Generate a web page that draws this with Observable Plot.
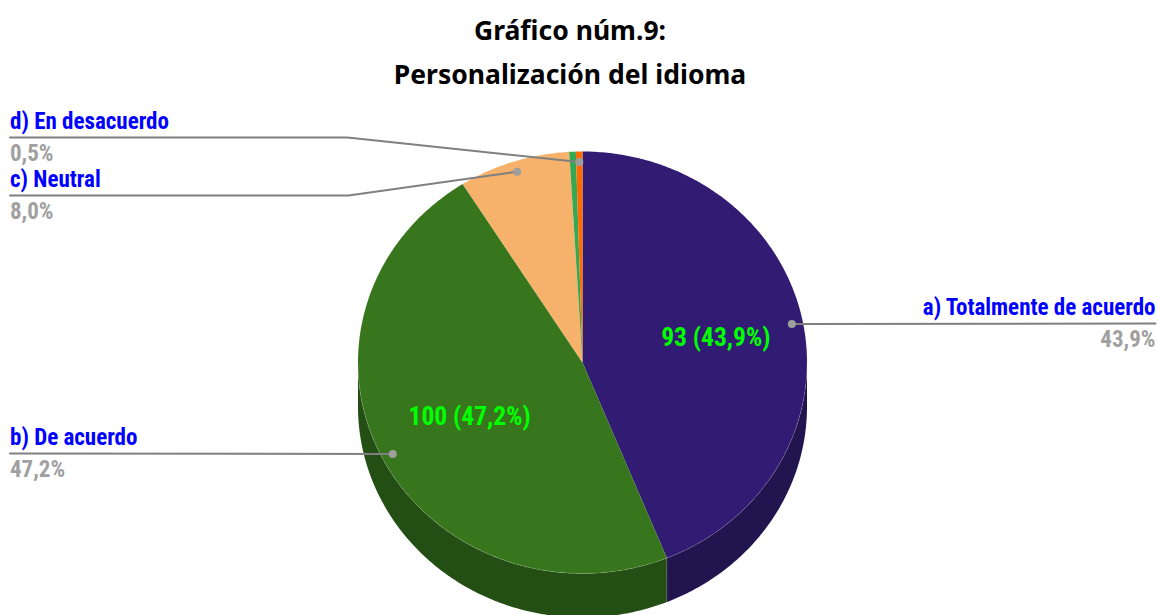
<!DOCTYPE html>
<html lang="es">
<head>
<meta charset="utf-8">
<script src="https://cdn.jsdelivr.net/npm/d3@7"></script>
<script src="https://cdn.jsdelivr.net/npm/@observablehq/plot@0.6"></script>
<style>
  html, body { margin: 0; padding: 0; background: #fff; overflow: hidden; }
  #title { height: 100px; box-sizing: border-box; padding: 8px 17px 0 0; text-align: center;
    font: 700 26.5px/44px "Noto Sans", sans-serif; color: #000; }
  svg { display: block; }
</style>
</head>
<body>
<div id="title">Gráfico núm.9:<br>Personalización del idioma</div>
<div id="chart"></div>
<script>
// Chart data, clockwise from 12 o'clock
const sliceNames = ["a) Totalmente de acuerdo", "b) De acuerdo", "c) Neutral", "sin etiqueta", "d) En desacuerdo"];
const counts = [93, 100, 17, 1, 1];
const percentLabels = ["43,9%", "47,2%", "8,0%", "", "0,5%"];
const sliceColors = ["#311b73", "#38761d", "#f6b26b", "#34a853", "#ff6d01"];
const sideColors = ["#22144f", "#244f14", "#ac7c4a", "#24753a", "#b24c00"];
const inSliceLabels = ["93 (43,9%)", "100 (47,2%)"];
const inSliceRadius = [0.605, 0.565];

// Layout (page pixels)
const W = 1157, H = 515, topOffset = 100;
const cx = 582, cy = 362, rx = 224.5, ry = 211, depth = 44;
const X = px => (px - cx) / rx;
const Y = py => (cy - py) / ry;
const depthU = depth / ry;
const leaderRadius = 0.95;
const labelRows = { // side of the label column and the y of its leader
  0: {x: 1155, lineY: 323, anchor: "end"},
  1: {x: 9.5, lineY: 453, anchor: "start"},
  2: {x: 9.5, lineY: 195, elbow: 348, anchor: "start"},
  4: {x: 9.5, lineY: 137, elbow: 347, anchor: "start"}
};

const pie = d3.pie().sort(null)(counts);
const onRim = (a, r = 1, off = 0) => ({x: r * Math.sin(a), y: r * Math.cos(a) - off});

const topPts = [], sidePts = [], seams = [];
pie.forEach((s, i) => {
  const n = Math.max(2, Math.ceil((s.endAngle - s.startAngle) * 90));
  const arc = d3.range(n + 1).map(k => s.startAngle + (s.endAngle - s.startAngle) * k / n);
  [{x: 0, y: 0}, ...arc.map(a => onRim(a))].forEach((p, k) => topPts.push({...p, slice: sliceNames[i], k}));
  // The visible wall is the rim's front half, between 3 and 9 o'clock
  const a0 = Math.max(s.startAngle, Math.PI / 2), a1 = Math.min(s.endAngle, 1.5 * Math.PI);
  if (a1 > a0) {
    const m = Math.ceil((a1 - a0) * 90);
    const wall = d3.range(m + 1).map(k => a0 + (a1 - a0) * k / m);
    [...wall.map(a => onRim(a)), ...wall.slice().reverse().map(a => onRim(a, 1, depthU))]
      .forEach(p => sidePts.push({...p, slice: sliceNames[i]}));
    wall.forEach(a => seams.push({...onRim(a), id: "rim"}));
  }
  if (s.endAngle > Math.PI / 2 && s.endAngle < 1.5 * Math.PI) {
    seams.push({...onRim(s.endAngle), id: "w" + i}, {...onRim(s.endAngle, 1, depthU), id: "w" + i});
  }
});

const leaders = [], dots = [], blue = [], grey = [];
Object.entries(labelRows).forEach(([key, r]) => {
  const i = +key, mid = (pie[i].startAngle + pie[i].endAngle) / 2;
  const d = onRim(mid, leaderRadius);
  dots.push(d);
  const path = [{x: X(r.x), y: Y(r.lineY)}];
  if (r.elbow) path.push({x: X(r.elbow), y: Y(r.lineY)});
  path.push(d);
  path.forEach(p => leaders.push({...p, id: i}));
  blue.push({x: X(r.x), y: Y(r.lineY - 16), text: sliceNames[i], anchor: r.anchor});
  grey.push({x: X(r.x), y: Y(r.lineY + 16), text: percentLabels[i], anchor: r.anchor});
});

const inside = inSliceLabels.map((text, i) => {
  const mid = (pie[i].startAngle + pie[i].endAngle) / 2;
  return {...onRim(mid, inSliceRadius[i]), text};
});

const narrow = '"Liberation Sans Narrow", "Roboto Condensed", Roboto, sans-serif';
const textStyle = {fontFamily: narrow, fontWeight: 700, lineAnchor: "middle"};

const chart = Plot.plot({
  width: W, height: H,
  margin: 0,
  style: {background: "#fff"},
  x: {axis: null, domain: [X(0), X(W)], range: [0, W]},
  y: {axis: null, domain: [Y(topOffset), Y(topOffset + H)], range: [0, H]},
  color: {type: "ordinal", domain: sliceNames, range: sliceColors},
  marks: [
    ...sliceNames.map((name, i) => Plot.line(sidePts.filter(p => p.slice === name),
      {x: "x", y: "y", fill: sideColors[i], stroke: "none"})),
    Plot.line(topPts, {x: "x", y: "y", z: "slice", fill: "slice", stroke: "none"}),
    Plot.line(seams, {x: "x", y: "y", z: "id", stroke: "#fff", strokeOpacity: 0.2, strokeWidth: 0.7}),
    Plot.line(leaders, {x: "x", y: "y", z: "id", stroke: "#808080", strokeWidth: 2}),
    Plot.dot(dots, {x: "x", y: "y", r: 4, fill: "#9e9e9e", stroke: "none"}),
    Plot.text(blue.filter(d => d.anchor === "start"), {x: "x", y: "y", text: "text", textAnchor: "start", fill: "#0000ff", fontSize: 23, ...textStyle}),
    Plot.text(blue.filter(d => d.anchor === "end"), {x: "x", y: "y", text: "text", textAnchor: "end", fill: "#0000ff", fontSize: 23, ...textStyle}),
    Plot.text(grey.filter(d => d.anchor === "start"), {x: "x", y: "y", text: "text", textAnchor: "start", fill: "#a0a0a0", fontSize: 23, ...textStyle}),
    Plot.text(grey.filter(d => d.anchor === "end"), {x: "x", y: "y", text: "text", textAnchor: "end", fill: "#a0a0a0", fontSize: 23, ...textStyle}),
    Plot.text(inside, {x: "x", y: "y", text: "text", fill: "#00ff00", fontSize: 25.5, ...textStyle})
  ]
});
document.getElementById("chart").appendChild(chart);
</script>
</body>
</html>
